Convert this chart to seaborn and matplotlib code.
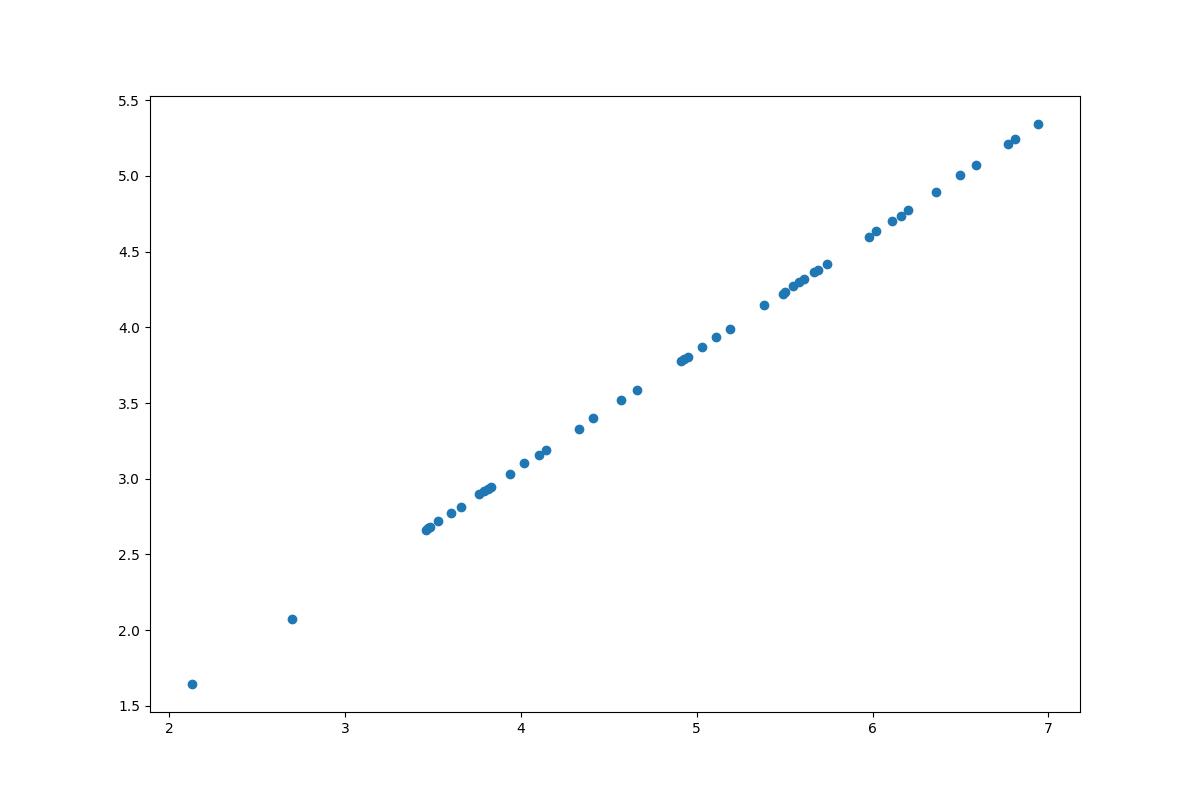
import pandas as pd
import matplotlib
matplotlib.use('Agg')
import matplotlib.pyplot as plt
import seaborn as sns

# values
x_vals = [2.13, 2.70, 3.46, 3.47, 3.48, 3.53, 3.60, 3.66, 3.76, 3.79, 3.81, 3.83,
          3.94, 4.02, 4.10, 4.14, 4.33, 4.41, 4.57, 4.66, 4.91, 4.93, 4.95, 5.03,
          5.11, 5.19, 5.38, 5.49, 5.50, 5.55, 5.58, 5.61, 5.67, 5.69, 5.74, 5.98,
          6.02, 6.11, 6.16, 6.20, 6.36, 6.50, 6.59, 6.77, 6.81, 6.94]
y_vals = [1.645, 2.074, 2.662, 2.675, 2.682, 2.721, 2.774, 2.814, 2.899, 2.919, 2.932, 2.945,
          3.031, 3.104, 3.157, 3.190, 3.328, 3.401, 3.520, 3.586, 3.777, 3.790, 3.804, 3.870,
          3.936, 3.988, 4.147, 4.219, 4.233, 4.272, 4.299, 4.318, 4.365, 4.378, 4.417, 4.596,
          4.635, 4.701, 4.734, 4.774, 4.893, 5.005, 5.071, 5.210, 5.243, 5.342]

df = pd.DataFrame({'x': x_vals, 'y': y_vals})

fig, ax = plt.subplots(figsize=(12, 8), dpi=100)
sns.scatterplot(data=df, x='x', y='y', ax=ax, color='#1f77b4', s=36,
                edgecolor='face', linewidth=1)
ax.set_xlabel('')
ax.set_ylabel('')
fig.savefig('out.png', dpi=100)
